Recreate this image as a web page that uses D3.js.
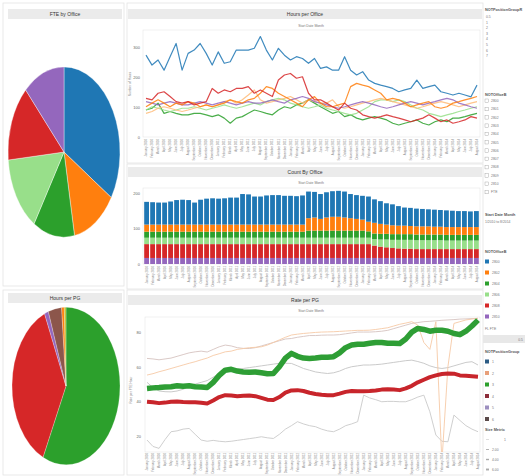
<!DOCTYPE html>
<html>
<head>
<meta charset="utf-8">
<script src="https://cdn.jsdelivr.net/npm/d3@7"></script>
<style>
  body { margin: 0; background: #fff; }
  text { font-family: "Liberation Sans", Arial, sans-serif; }
</style>
</head>
<body>
<div id="dash"></div>
<script>
// ---------- DATA ----------
const months = ["January 2010","February 2010","March 2010","April 2010","May 2010","June 2010","July 2010","August 2010","September 2010","October 2010","November 2010","December 2010",
  "January 2011","February 2011","March 2011","April 2011","May 2011","June 2011","July 2011","August 2011","September 2011","October 2011","November 2011","December 2011",
  "January 2012","February 2012","March 2012","April 2012","May 2012","June 2012","July 2012","August 2012","September 2012","October 2012","November 2012","December 2012",
  "January 2013","February 2013","March 2013","April 2013","May 2013","June 2013","July 2013","August 2013","September 2013","October 2013","November 2013","December 2013",
  "January 2014","February 2014","March 2014","April 2014","May 2014","June 2014","July 2014","August 2014"];

const offices = ["2800", "2802", "2804", "2806", "2808", "2810"];
const officeColors = ["#1f77b4", "#ff7f0e", "#2ca02c", "#98df8a", "#d62728", "#9467bd"];

// FTE by Office (pie)
const fteByOffice = [34, 13, 12, 14.5, 14.5, 12];

// Hours per PG (pie)
const pgGroups = ["3", "5", "2", "6", "4", "1"];
const pgColors = ["#2ca02c", "#d62728", "#9467bd", "#8c564b", "#ff7f0e", "#bcbd22"];
const hoursByPG = [57, 36.5, 1.2, 4, 0.8, 0.5];

// Hours per Office (lines)
const hours2800 = [273,240,257,223,268,312,223,279,290,312,279,240,284,246,251,290,290,290,296,335,290,257,296,273,257,268,262,246,262,229,234,223,223,268,223,207,218,190,179,173,168,162,151,157,162,190,162,168,173,151,146,140,146,140,134,173];
const hours2808 = [129,124,146,151,135,118,113,118,107,113,118,162,146,157,151,162,162,168,146,157,146,135,190,207,212,196,201,146,124,124,113,101,90,113,96,90,74,68,63,68,74,68,63,57,51,57,63,74,63,51,57,46,51,57,68,63];
const hours2802 = [101,113,124,113,101,113,107,118,113,101,107,101,107,113,124,118,113,124,129,146,168,162,146,135,124,113,101,124,135,113,101,101,107,113,168,179,173,168,157,146,124,129,124,113,101,107,113,118,101,96,101,113,118,124,129,135];
const hoursFTE = [79,85,96,101,96,90,85,90,96,101,107,101,107,118,124,113,124,140,157,124,113,118,124,129,135,124,113,124,118,113,113,124,101,96,101,107,113,118,124,129,124,118,113,107,101,96,101,107,113,118,113,107,101,107,113,118];
const hours2806 = [90,101,96,90,85,90,96,96,101,96,90,96,101,107,101,96,101,107,113,107,118,124,129,124,113,107,101,96,101,107,96,90,85,79,74,79,90,101,118,124,124,118,124,118,107,96,90,79,74,68,74,79,85,90,96,101];
const hours2810 = [118,113,107,113,118,113,107,107,113,118,113,107,113,118,113,107,113,118,113,113,118,124,118,113,124,129,135,129,118,113,107,101,96,101,107,113,118,113,107,101,96,101,107,113,118,113,107,113,118,124,129,124,113,107,101,96];
const hours2804 = [90,96,113,79,85,79,74,74,79,79,74,68,74,63,46,63,68,79,90,85,79,74,90,101,96,107,113,124,113,101,90,79,85,68,74,63,57,63,68,63,57,46,40,46,51,57,46,40,51,57,51,63,63,68,74,79];

// Count By Office (stacked bars)
const count2810 = [17,17,17,17,17,17,17,17,17,17,17,17,17,17,17,17,17,17,17,17,17,17,17,17,17,17,17,17,17,17,17,17,17,17,17,17,17,17,17,17,17,17,17,17,17,17,17,17,17,17,17,17,17,17,17,17];
const count2808 = [39,39,39,39,39,39,39,39,39,39,39,39,39,39,39,39,39,39,39,39,39,39,39,39,39,39,39,39,39,39,39,39,39,39,39,39,39,39,35,32,30,28,27,26,26,25,25,25,25,25,25,25,25,25,25,25];
const count2806 = [18,18,18,18,18,18,18,18,18,18,18,18,18,18,18,18,18,18,18,18,18,18,18,18,18,18,18,18,18,18,18,18,18,18,18,18,18,18,18,20,22,23,24,25,25,25,25,25,25,25,24,24,24,24,24,24];
const count2804 = [17,17,17,17,17,17,17,17,17,17,17,17,17,17,17,17,17,17,17,17,17,17,17,17,17,17,17,20,20,20,20,20,20,20,20,20,20,18,16,16,16,16,16,16,16,16,16,16,16,16,16,16,16,16,16,16];
const count2802 = [20,20,20,20,20,20,20,20,20,20,20,20,20,20,20,20,20,20,20,20,20,20,20,20,20,20,20,35,37,33,37,39,39,37,35,33,31,27,30,28,26,25,24,24,23,23,23,23,22,22,22,22,22,22,22,22];
const count2800 = [64,63,62,62,65,69,70,69,62,70,73,74,73,74,76,76,86,85,79,79,82,83,83,81,81,80,82,75,72,70,71,72,73,73,68,67,67,71,66,64,60,59,55,51,51,50,49,48,48,47,47,46,45,45,44,45];

// Rate per PG (lines)
const rateGreen = [47.5,47.8,48,48.3,48.5,49,48.8,49,48.5,48.3,48,51,55,58,58.5,57.5,57,56.8,57,56.5,56,56.1,60,65,67.7,66,65,64.8,65,65.5,65.5,65.8,68,71,72.5,73,73,73.5,74,74,73.5,73.5,73.4,76,80,82.1,81.5,80.5,81,81,80.5,79.2,78.5,80.5,83.5,86.9];
const rateRed = [39.8,39.5,39,39.3,39.8,40,39.7,39.5,39.5,39.2,38.8,40.5,42.5,43.6,43.4,43,43.2,43.4,43,42,41,40.8,42.5,45,46.3,46.5,46,45,44.3,43.8,43.6,43.6,44.5,45.5,46,45.8,45.8,46,46.3,46.8,47,46.8,46.5,47.5,49,51,52.5,54,55,55.8,56.1,56,55,54.8,54.5,54.2];
const rateTop = [64.8,64.5,64,64.5,65,66,67,68,68.6,69,68.5,70,71.5,72.5,72,71,70.6,70.5,71,72,73,74,75,76,76.3,77,77.5,78,78,78.2,78.3,78.3,78.5,79,79.5,80,80,80,80.2,80.5,81,82,83,84,85,85.5,86,86.2,86.5,86.8,87,87.2,87.5,87.6,87.8,87.9];
const ratePeach = [55.2,56,57.1,58,59,60,61,62,62.9,64,65,66.5,67.5,68.6,69,70,70.5,71,71.2,71.5,72.5,74,75.5,77,78.3,78.8,79.2,79.5,79.8,80,80.1,80.2,80.4,80.6,80.8,81,81,81.1,81.5,82,82.5,83.5,84.5,85.2,86,84,74,70,86,5,60,85,86,87,87.5,88];
const rateMid = [51,48,46,45.6,45.5,46,47,48.5,50,51,52,54,56,57.5,58,58.5,59,59.5,60,60.5,61,61.5,62,62,61.9,60.5,59,58,57,56.5,56.1,56.5,57.5,59,60,60.5,61,61,61.2,61.5,62,62.5,63,63.5,63.8,63,62,60.5,59.5,59,59.5,60.5,61.5,62.5,62.9,61];
const rateLow = [17.7,14,12.9,18,22.5,23,24,24.4,21,17.7,17,17.5,17,16.7,17,17.5,18,18.5,19,19.6,19,18.6,21,24,26,28.3,27,26,25.4,24,23,22.5,24,26,27,28.3,43.6,42,41,39.8,40,40,39.8,39.8,41,42.5,43.6,34,20.6,17,16.7,32.1,29,26,24,22.5];

const hoursTicks = [0, 100, 200, 300];
const countTicks = [0, 100, 200];
const rateTicks = [20, 40, 60, 80];

// legend texts
const posGroupItems = ["0.5", "1", "2", "3", "4", "5", "6", "7"];
const officeBItems = ["2800", "2801", "2802", "2803", "2804", "2805", "2806", "2807", "2808", "2809", "2810", "FTE"];
const pgLegendItems = ["1", "2", "3", "4", "5", "6"];
const pgLegendColors = ["#2b5b84", "#e8a07a", "#2ca02c", "#8c2d3a", "#9c8fbf", "#5a4a4a"];
const sizeItems = ["1", "2.00", "4.00", "6.00"];

// ---------- SVG ----------
const svg = d3.select("#dash").append("svg")
    .attr("width", 525)
    .attr("height", 476);

svg.append("rect").attr("width", 525).attr("height", 476).attr("fill", "#fff");

function panel(x, y, w, h) {
    svg.append("rect")
        .attr("x", x).attr("y", y).attr("width", w).attr("height", h)
        .attr("fill", "none").attr("stroke", "#e3e3e3").attr("stroke-width", 0.8);
}

function titleBar(x, y, w, label) {
    svg.append("rect")
        .attr("x", x).attr("y", y).attr("width", w).attr("height", 10)
        .attr("fill", "#ebebeb");
    svg.append("text")
        .attr("x", x + w / 2).attr("y", y + 7)
        .attr("text-anchor", "middle")
        .attr("font-size", 5)
        .attr("fill", "#333")
        .text(label);
}

panel(3, 3, 121, 283);
panel(3, 290, 121, 185);
panel(127, 3, 356, 160);
panel(127, 164, 356, 125);
panel(127, 290, 356, 185);

titleBar(8, 9, 114, "FTE by Office");
titleBar(8, 293, 114, "Hours per PG");
titleBar(128, 9, 354, "Hours per Office");
titleBar(128, 167, 354, "Count By Office");
titleBar(128, 295, 354, "Rate per PG");

//////////
// PIES //
//////////
const pie = d3.pie().sort(null).value(d => d);

const arc1 = d3.arc().innerRadius(0).outerRadius(56);
svg.append("g")
    .attr("transform", "translate(64,152) scale(1,1.52)")
    .selectAll("path")
    .data(pie(fteByOffice))
    .join("path")
    .attr("d", arc1)
    .attr("fill", (d, i) => officeColors[i])
    .attr("stroke", "#fff")
    .attr("stroke-width", 0.3);

const arc2 = d3.arc().innerRadius(0).outerRadius(54);
svg.append("g")
    .attr("transform", "translate(66,386) scale(1,1.46)")
    .selectAll("path")
    .data(pie(hoursByPG))
    .join("path")
    .attr("d", arc2)
    .attr("fill", (d, i) => pgColors[i])
    .attr("stroke", "#fff")
    .attr("stroke-width", 0.2);

//////////
// helpers for axes
//////////
function yAxis(scale, ticks, x, title, titleY) {
    const g = svg.append("g")
        .attr("transform", `translate(${x},0)`)
        .call(d3.axisLeft(scale).tickValues(ticks).tickSize(0).tickPadding(2));
    g.select(".domain").remove();
    g.selectAll("text").attr("font-size", 4).attr("fill", "#666");
    if (title) {
        svg.append("text")
            .attr("transform", `translate(${x - 11},${titleY}) rotate(-90)`)
            .attr("text-anchor", "middle")
            .attr("font-size", 3.2)
            .attr("fill", "#777")
            .text(title);
    }
}

function monthLabels(xpos, y0) {
    svg.append("g")
        .selectAll("text")
        .data(months)
        .join("text")
        .attr("transform", d => `translate(${xpos(d) + 1.1},${y0}) rotate(-90)`)
        .attr("text-anchor", "end")
        .attr("font-size", 2.9)
        .attr("fill", "#8a8a8a")
        .text(d => d);
}

function subtitle(y) {
    svg.append("text")
        .attr("x", 311).attr("y", y)
        .attr("text-anchor", "middle")
        .attr("font-size", 3.4)
        .attr("fill", "#777")
        .text("Start Date Month");
}

//////////
// HOURS PER OFFICE
//////////
const xH = d3.scalePoint().domain(months).range([146, 477]);
const yH = d3.scaleLinear().domain([0, 357]).range([137, 30]);

svg.append("rect").attr("x", 143).attr("y", 30).attr("width", 337).attr("height", 107)
    .attr("fill", "none").attr("stroke", "#e6e6e6").attr("stroke-width", 0.6);
subtitle(26.5);
yAxis(yH, hoursTicks, 142, "Number of Hours", 84);
monthLabels(xH, 139);

const hourSeries = [
    { values: hours2804, color: "#2ca02c" },
    { values: hours2806, color: "#98df8a" },
    { values: hoursFTE, color: "#ffbb78" },
    { values: hours2810, color: "#9467bd" },
    { values: hours2802, color: "#ff7f0e" },
    { values: hours2808, color: "#d62728" },
    { values: hours2800, color: "#1f77b4" }
];

const lineH = d3.line()
    .x((d, i) => xH(months[i]))
    .y(d => yH(d));

svg.append("g")
    .selectAll("path")
    .data(hourSeries)
    .join("path")
    .attr("d", d => lineH(d.values))
    .attr("fill", "none")
    .attr("stroke", d => d.color)
    .attr("stroke-width", 1.2)
    .attr("stroke-opacity", 0.85)
    .attr("stroke-linejoin", "round");

//////////
// COUNT BY OFFICE
//////////
const countTable = months.map((m, i) => ({
    month: m,
    "2810": count2810[i], "2808": count2808[i], "2806": count2806[i],
    "2804": count2804[i], "2802": count2802[i], "2800": count2800[i]
}));
const stackKeys = ["2810", "2808", "2806", "2804", "2802", "2800"];
const stackColor = d3.scaleOrdinal().domain(offices).range(officeColors);
const stacked = d3.stack().keys(stackKeys)(countTable);

const xC = d3.scaleBand().domain(months).range([143, 480]).padding(0.2);
const yC = d3.scaleLinear().domain([0, 214]).range([264, 188]);

svg.append("rect").attr("x", 143).attr("y", 188).attr("width", 337).attr("height", 76)
    .attr("fill", "none").attr("stroke", "#e6e6e6").attr("stroke-width", 0.6);
subtitle(184);
yAxis(yC, countTicks, 142, null, 0);

svg.append("g")
    .selectAll("g")
    .data(stacked)
    .join("g")
    .attr("fill", d => stackColor(d.key))
    .selectAll("rect")
    .data(d => d)
    .join("rect")
    .attr("x", d => xC(d.data.month))
    .attr("y", d => yC(d[1]))
    .attr("height", d => yC(d[0]) - yC(d[1]))
    .attr("width", xC.bandwidth());

monthLabels(m => xC(m) + xC.bandwidth() / 2, 266);

//////////
// RATE PER PG
//////////
const xR = d3.scalePoint().domain(months).range([147, 478]);
const yR = d3.scaleLinear().domain([10.8, 88.7]).range([452, 317]);

svg.append("defs").append("clipPath").attr("id", "rateclip")
    .append("rect").attr("x", 145).attr("y", 317).attr("width", 335).attr("height", 135);

svg.append("rect").attr("x", 145).attr("y", 317).attr("width", 335).attr("height", 135)
    .attr("fill", "none").attr("stroke", "#e6e6e6").attr("stroke-width", 0.6);
subtitle(312);
yAxis(yR, rateTicks, 143, "Rate per FTE Hour", 390);
monthLabels(xR, 453);

const rateSeries = [
    { values: rateLow, color: "#c9c9c9", w: 0.9 },
    { values: rateMid, color: "#c4c4c4", w: 0.9 },
    { values: rateTop, color: "#d6c3c0", w: 0.9 },
    { values: ratePeach, color: "#f6c9a6", w: 0.9 },
    { values: rateRed, color: "#c8252b", w: 4 },
    { values: rateGreen, color: "#2e9e35", w: 5.5 }
];

const lineR = d3.line()
    .x((d, i) => xR(months[i]))
    .y(d => yR(d));

svg.append("g")
    .attr("clip-path", "url(#rateclip)")
    .selectAll("path")
    .data(rateSeries)
    .join("path")
    .attr("d", d => lineR(d.values))
    .attr("fill", "none")
    .attr("stroke", d => d.color)
    .attr("stroke-width", d => d.w)
    .attr("stroke-linejoin", "round");

//////////
// LEGENDS
//////////
const lx = 485;
function legendTitle(y, label) {
    svg.append("text").attr("x", lx).attr("y", y)
        .attr("font-size", 3.8).attr("font-weight", "bold").attr("fill", "#555").text(label);
}
function legendText(x, y, label) {
    svg.append("text").attr("x", x).attr("y", y)
        .attr("font-size", 3.4).attr("fill", "#777").text(label);
}

legendTitle(11, "NOTPositionGroupR");
posGroupItems.forEach((d, i) => legendText(lx + 1, 18 + i * 5.6, d));

legendTitle(96, "NOTOfficeB");
officeBItems.forEach((d, i) => {
    const y = 102 + i * 8.3;
    svg.append("rect").attr("x", lx).attr("y", y - 3).attr("width", 3.5).attr("height", 3.5)
        .attr("fill", "#fff").attr("stroke", "#999").attr("stroke-width", 0.4);
    legendText(lx + 6, y, d);
});

legendTitle(216, "Start Date Month");
legendText(lx, 223, "1/2010 to 8/2014");

legendTitle(253, "NOTOfficeB");
offices.forEach((d, i) => {
    const y = 263 + i * 11;
    svg.append("rect").attr("x", lx).attr("y", y - 3.5).attr("width", 4).attr("height", 4)
        .attr("fill", officeColors[i]);
    legendText(lx + 7, y, d);
});
legendText(lx, 330, "FL FTE");

svg.append("rect").attr("x", 483).attr("y", 335).attr("width", 42).attr("height", 8).attr("fill", "#e8e8e8");
svg.append("text").attr("x", 523).attr("y", 340.5).attr("text-anchor", "end")
    .attr("font-size", 3.4).attr("fill", "#777").text("0.5");

legendTitle(353, "NOTPositionGroup");
pgLegendItems.forEach((d, i) => {
    const y = 363 + i * 11.5;
    svg.append("rect").attr("x", lx).attr("y", y - 3.5).attr("width", 4).attr("height", 4)
        .attr("fill", pgLegendColors[i]);
    legendText(lx + 7, y, d);
});

legendTitle(431, "Size Metric");
sizeItems.forEach((d, i) => {
    const y = 441 + i * 10;
    svg.append("line").attr("x1", lx + 1).attr("x2", lx + 4).attr("y1", y - 1.5).attr("y2", y - 1.5)
        .attr("stroke", "#aaa").attr("stroke-width", 0.4 + i * 0.5);
    svg.append("text").attr("x", lx + (i === 0 ? 19 : 7)).attr("y", y)
        .attr("font-size", 3.4).attr("fill", "#777").text(d);
});
</script>
</body>
</html>
